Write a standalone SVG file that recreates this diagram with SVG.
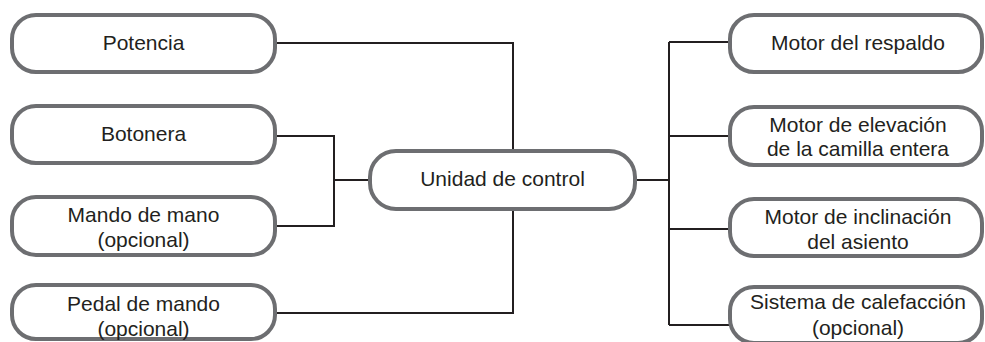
<svg xmlns="http://www.w3.org/2000/svg" width="985" height="342" viewBox="0 0 985 342">
<style>
.box{fill:#fff;stroke:#6d6e71;stroke-width:4}
.t{font-family:"Liberation Sans",Arial,sans-serif;font-size:21px;fill:#231f20;text-anchor:middle}
.c{fill:none;stroke:#231f20;stroke-width:2}
</style>
<rect width="985" height="342" fill="#fff"/>
<g id="connectors">
<path class="c" d="M276,43 H513 V150"/>
<path class="c" d="M276,313 H513 V210"/>
<path class="c" d="M276,136 H334 V226 H276"/>
<path class="c" d="M334,180 H369"/>
<path class="c" d="M636,180 H669"/>
<path class="c" d="M669,42 V325"/>
<path class="c" d="M669,42 H729 M669,136 H729 M669,229 H729 M669,325 H729"/>
</g>
<g id="potencia"><rect class="box" x="12" y="15" width="263" height="57" rx="24"/><text class="t" x="143.5" y="50">Potencia</text></g>
<g id="botonera"><rect class="box" x="12" y="106" width="263" height="57" rx="24"/><text class="t" x="143.5" y="141">Botonera</text></g>
<g id="mando"><rect class="box" x="12" y="197" width="263" height="58" rx="24"/><text class="t" x="143.5" y="222">Mando de mano</text><text class="t" x="143.5" y="247">(opcional)</text></g>
<g id="pedal"><rect class="box" x="12" y="285" width="263" height="54" rx="24"/><text class="t" x="143.5" y="311">Pedal de mando</text><text class="t" x="143.5" y="336">(opcional)</text></g>
<g id="unidad"><rect class="box" x="370" y="151" width="265" height="58" rx="26"/><text class="t" x="502.5" y="186">Unidad de control</text></g>
<g id="respaldo"><rect class="box" x="730" y="15" width="252" height="57" rx="24"/><text class="t" x="858" y="50">Motor del respaldo</text></g>
<g id="elevacion"><rect class="box" x="730" y="107" width="252" height="58" rx="24"/><text class="t" x="858" y="132">Motor de elevación</text><text class="t" x="858" y="156">de la camilla entera</text></g>
<g id="inclinacion"><rect class="box" x="730" y="199" width="252" height="57" rx="24"/><text class="t" x="858" y="224">Motor de inclinación</text><text class="t" x="858" y="249">del asiento</text></g>
<g id="calefaccion"><rect class="box" x="730" y="287" width="252" height="56" rx="24"/><text class="t" x="858" y="309">Sistema de calefacción</text><text class="t" x="858" y="335">(opcional)</text></g>
</svg>
